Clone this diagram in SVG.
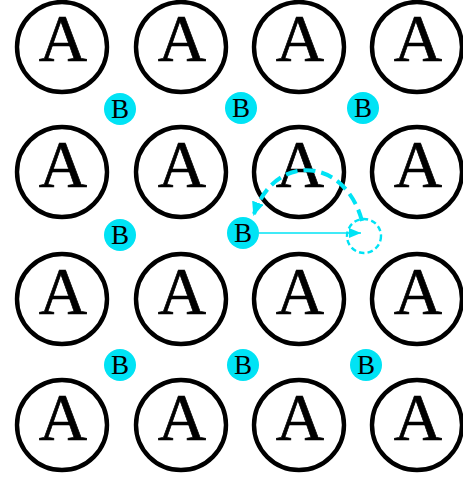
<svg xmlns="http://www.w3.org/2000/svg" width="463" height="479" viewBox="0 0 463 479">
<style>
.a circle{fill:none;stroke:#000;stroke-width:4.4}
.a text{font-family:"Liberation Serif",serif;font-size:67px;text-anchor:middle;fill:#000;stroke:#000;stroke-width:0.7}
.b circle{fill:#00e3f5;stroke:none}
.b text{font-family:"Liberation Serif",serif;font-size:27px;text-anchor:middle;fill:#000}
.ghost{fill:none;stroke:#00e3f5;stroke-width:2.4;stroke-dasharray:5.5 3.2}
</style>
<defs>
<marker id="ah" viewBox="0 0 12 10" refX="12" refY="5" markerWidth="12" markerHeight="10" markerUnits="userSpaceOnUse" orient="auto">
<path d="M0,0 L12,5 L0,10 Z" fill="#00e3f5"/>
</marker>
<marker id="ah2" viewBox="0 0 14 12" refX="12" refY="6" markerWidth="14" markerHeight="12" markerUnits="userSpaceOnUse" orient="auto">
<path d="M0,0 L14,6 L0,12 Z" fill="#00e3f5"/>
</marker>
</defs>
<g id="A11" class="a"><circle cx="62" cy="47" r="45"/><text x="63" y="61">A</text></g>
<g id="A12" class="a"><circle cx="181" cy="47" r="45"/><text x="182" y="61">A</text></g>
<g id="A13" class="a"><circle cx="299" cy="47" r="45"/><text x="300" y="61">A</text></g>
<g id="A14" class="a"><circle cx="417" cy="47" r="45"/><text x="418" y="61">A</text></g>
<g id="A21" class="a"><circle cx="62" cy="172" r="45"/><text x="63" y="187">A</text></g>
<g id="A22" class="a"><circle cx="181" cy="172" r="45"/><text x="182" y="187">A</text></g>
<g id="A23" class="a"><circle cx="299" cy="172" r="45"/><text x="300" y="187">A</text></g>
<g id="A24" class="a"><circle cx="417" cy="172" r="45"/><text x="418" y="187">A</text></g>
<g id="A31" class="a"><circle cx="62" cy="299" r="45"/><text x="63" y="314">A</text></g>
<g id="A32" class="a"><circle cx="181" cy="299" r="45"/><text x="182" y="314">A</text></g>
<g id="A33" class="a"><circle cx="299" cy="299" r="45"/><text x="300" y="314">A</text></g>
<g id="A34" class="a"><circle cx="417" cy="299" r="45"/><text x="418" y="314">A</text></g>
<g id="A41" class="a"><circle cx="62" cy="425" r="45"/><text x="63" y="440">A</text></g>
<g id="A42" class="a"><circle cx="181" cy="425" r="45"/><text x="182" y="440">A</text></g>
<g id="A43" class="a"><circle cx="299" cy="425" r="45"/><text x="300" y="440">A</text></g>
<g id="A44" class="a"><circle cx="417" cy="425" r="45"/><text x="418" y="440">A</text></g>
<g id="B11" class="b"><circle cx="120" cy="109" r="16"/><text x="120" y="118">B</text></g>
<g id="B12" class="b"><circle cx="241" cy="108" r="16"/><text x="241" y="117">B</text></g>
<g id="B13" class="b"><circle cx="363" cy="108" r="16"/><text x="363" y="117">B</text></g>
<g id="B21" class="b"><circle cx="120" cy="235" r="16"/><text x="120" y="244">B</text></g>
<g id="B22" class="b"><circle cx="243" cy="233" r="16"/><text x="243" y="242">B</text></g>
<g id="B31" class="b"><circle cx="120" cy="365" r="16"/><text x="120" y="374">B</text></g>
<g id="B32" class="b"><circle cx="243" cy="365" r="16"/><text x="243" y="374">B</text></g>
<g id="B33" class="b"><circle cx="366" cy="365" r="16"/><text x="366" y="374">B</text></g>
<g id="ghost"><circle class="ghost" cx="364" cy="236" r="17"/></g>
<g id="connectors" fill="none" stroke="#00e3f5">
<path d="M259,233 L361,233" stroke-width="1.6" marker-end="url(#ah)"/>
<path d="M362,221 C345,157 275,152 254,214" stroke-width="4" stroke-dasharray="12 6" marker-end="url(#ah2)"/>
</g>
</svg>
